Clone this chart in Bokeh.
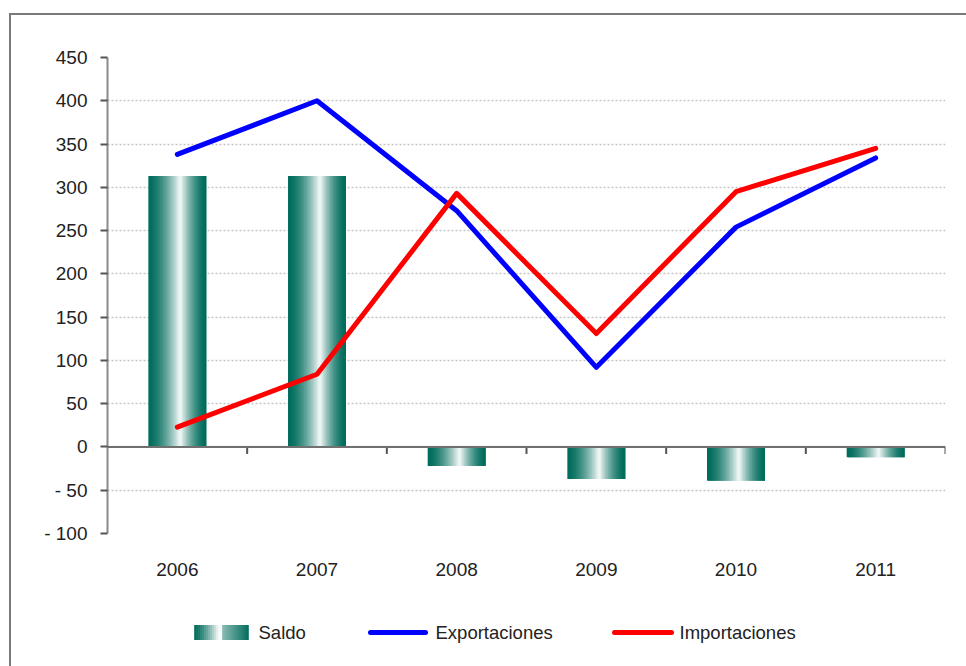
import numpy as np
from bokeh.plotting import figure
from bokeh.layouts import column
from bokeh.models import Range1d, FixedTicker, Span, ColumnDataSource
from bokeh.core.properties import value
from bokeh.embed import file_html
from bokeh.resources import INLINE

# ---------------- data ----------------
years = ["2006", "2007", "2008", "2009", "2010", "2011"]
saldo = [313, 313, -22, -37, -39, -12]
exportaciones = [338, 400, 273, 92, 254, 334]
importaciones = [23, 84, 293, 131, 295, 345]
y_ticks = [-100, -50, 0, 50, 100, 150, 200, 250, 300, 350, 400, 450]
y_tick_labels = ["- 100", "- 50", "0", "50", "100", "150", "200", "250",
                 "300", "350", "400", "450"]
series_names = ["Saldo", "Exportaciones", "Importaciones"]

FONT = "Liberation Sans"
FS = "19px"
TEAL = np.array([0, 108, 92])
WHITE = np.array([255, 255, 255])
BLUE = "#0000ff"
RED = "#ff0000"
W = 955
BL, BR = 96, 21


def mix(f):
    c = (TEAL + (WHITE - TEAL) * f).astype(int)
    return "#%02x%02x%02x" % tuple(c)


xc = np.arange(len(years)) + 0.5

p = figure(width=W, height=590, output_backend="svg", toolbar_location=None,
           x_range=Range1d(0, len(years)), y_range=Range1d(-100, 450),
           min_border_left=BL, min_border_top=42, min_border_right=BR,
           min_border_bottom=72, background_fill_color="white",
           border_fill_color="white", outline_line_color=None)

# grid
p.xgrid.visible = False
p.ygrid.ticker = FixedTicker(ticks=y_ticks)
p.ygrid.grid_line_color = "#c4c4c4"
p.ygrid.grid_line_width = 1.5
p.ygrid.grid_line_dash = "2 2"

# y axis
p.yaxis.ticker = FixedTicker(ticks=y_ticks)
p.yaxis.major_label_overrides = {t: l for t, l in zip(y_ticks, y_tick_labels)}
p.yaxis.axis_line_color = "#8a8a8a"
p.yaxis.axis_line_width = 2
p.yaxis.major_tick_line_color = "#555555"
p.yaxis.major_tick_line_width = 2
p.yaxis.major_tick_out = 7
p.yaxis.major_tick_in = 0
p.yaxis.minor_tick_line_color = None
p.yaxis.major_label_standoff = 13
p.yaxis.major_label_text_font = FONT
p.yaxis.major_label_text_font_size = FS
p.yaxis.major_label_text_color = "#222222"

# x axis (labels only)
p.xaxis.ticker = FixedTicker(ticks=list(xc))
p.xaxis.major_label_overrides = {float(x): y for x, y in zip(xc, years)}
p.xaxis.axis_line_color = None
p.xaxis.major_tick_line_color = None
p.xaxis.minor_tick_line_color = None
p.xaxis.major_tick_out = 0
p.xaxis.major_label_standoff = 29
p.xaxis.major_label_text_font = FONT
p.xaxis.major_label_text_font_size = FS
p.xaxis.major_label_text_color = "#222222"

# bars with horizontal gradient (teal - white - teal) built from strips
bar_w = 0.415
n_strips = 40
sw = bar_w / n_strips
sx, stop, sbot, scol, swid = [], [], [], [], []
for i, v in enumerate(saldo):
    for k in range(n_strips):
        t = (k + 0.5) / n_strips
        peak = 0.55
        if t <= peak:
            f = 1 - (peak - t) / peak
        else:
            f = 1 - (t - peak) / (1 - peak)
        f = 0.97 * f ** 1.6
        left = xc[i] - bar_w / 2 + k * sw
        right = min(left + 2.0 * sw, xc[i] + bar_w / 2)
        sx.append((left + right) / 2)
        swid.append(right - left)
        stop.append(max(v, 0))
        sbot.append(min(v, 0))
        scol.append(mix(f))
src = ColumnDataSource(dict(x=sx, top=stop, bottom=sbot, color=scol, w=swid))
p.vbar(x="x", top="top", bottom="bottom", width="w", source=src,
       fill_color="color", line_color=None)

# zero line (category axis) with ticks at category boundaries
p.add_layout(Span(location=0, dimension="width", line_color="#707070",
                  line_width=2))
px_per_unit = 476 / 550.0
tick_len = 7 / px_per_unit
bounds = np.arange(len(years) + 1)
p.segment(x0=bounds[1:], x1=bounds[1:], y0=[0] * len(years),
          y1=[-tick_len] * len(years), line_color="#555555", line_width=2)

p.line(xc, exportaciones, line_color=BLUE, line_width=5,
       line_join="round", line_cap="round")
p.line(xc, importaciones, line_color=RED, line_width=5,
       line_join="round", line_cap="round")

# ---------------- legend strip (separate figure, pixel units) ----------------
LH = 61
lg = figure(width=W, height=LH, output_backend="svg", toolbar_location=None,
            x_range=Range1d(BL, W - BR), y_range=Range1d(0, LH),
            x_axis_type=None, y_axis_type=None,
            min_border_left=BL, min_border_right=BR, min_border_top=0,
            min_border_bottom=0, outline_line_color=None,
            background_fill_color="white", border_fill_color="white")
lg.grid.visible = False
ly = 34
# Saldo swatch: gradient strips
sw_left, sw_right = 183, 237
n_l = 27
step = (sw_right - sw_left) / n_l
lx, lcol = [], []
for k in range(n_l):
    t = (k + 0.5) / n_l
    if t < 0.45:
        f = (t / 0.45) ** 1.4
    elif t < 0.52:
        f = 1.0
    else:
        f = 0.55 * (1 - (t - 0.52) / 0.48)
    lx.append(sw_left + (k + 0.5) * step)
    lcol.append(mix(0.97 * f))
lg.rect(x=lx, y=[ly] * n_l, width=step * 1.3, height=15, fill_color=lcol,
        line_color=None)
lg.line(x=[359, 414], y=[ly, ly], line_color=BLUE, line_width=5,
        line_cap="round")
lg.line(x=[603, 660], y=[ly, ly], line_color=RED, line_width=5,
        line_cap="round")
lg.text(x=[247, 424, 668], y=[ly] * 3, text=series_names,
        text_font=value(FONT), text_font_size="18.5px", text_color="#222222",
        text_baseline="middle", text_align="left")

layout = column(p, lg, spacing=0)
layout.margin = (13, 0, 0, 9)
layout.styles = {"border-left": "2px solid #7a7a7a",
                 "border-top": "2px solid #7a7a7a"}

open("out.html", "w").write(file_html(layout, INLINE))
